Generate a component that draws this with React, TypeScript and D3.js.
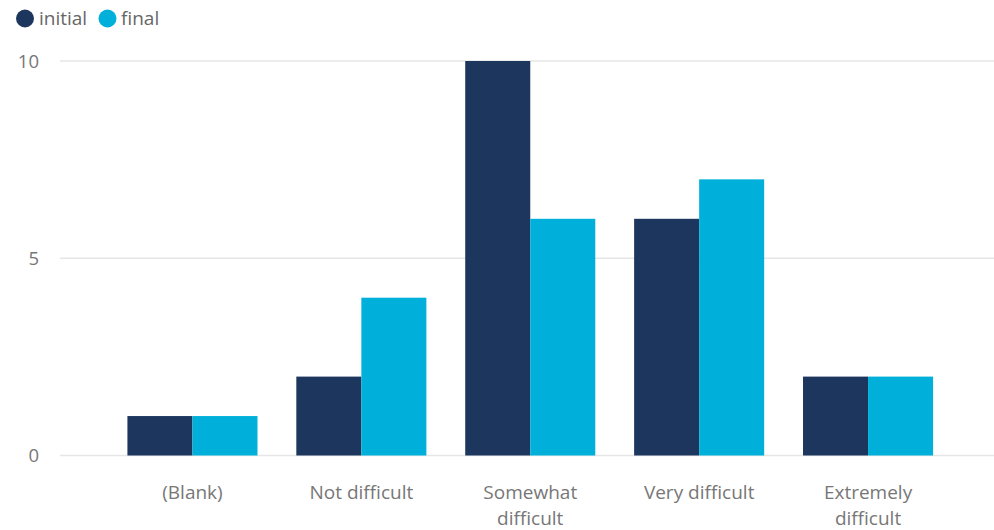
import React from "react";
import * as d3 from "d3";

// Survey responses: how difficult the task was, before and after
const categories: string[][] = [
  ["(Blank)"],
  ["Not difficult"],
  ["Somewhat", "difficult"],
  ["Very difficult"],
  ["Extremely", "difficult"],
];
const categoryKeys = ["(Blank)", "Not difficult", "Somewhat difficult", "Very difficult", "Extremely difficult"];
const initialValues = [1, 2, 10, 6, 2];
const finalValues = [1, 4, 6, 7, 2];
const seriesNames = ["initial", "final"];
const seriesColors = ["#1C365D", "#00B0DA"];
const yTicks = [0, 5, 10];

const W = 994;
const H = 530;
const FONT = "'Open Sans', 'Noto Sans', sans-serif";

export default function App() {
  const x = d3
    .scaleBand<string>()
    .domain(categoryKeys)
    .range([108, 952.5])
    .paddingInner(0.23)
    .paddingOuter(0.115);
  const sub = d3.scaleBand<string>().domain(seriesNames).range([0, x.bandwidth()]);
  const y = d3.scaleLinear().domain([0, 10]).range([455.5, 61]);
  const series = [initialValues, finalValues];

  return (
    <svg
      width={W}
      height={H}
      style={{ position: "absolute", left: 0, top: 0, background: "#fff" }}
      fontFamily={FONT}
    >
      {/* legend */}
      <g>
        <circle cx={25} cy={18.5} r={9} fill={seriesColors[0]} />
        <text x={39} y={25} fontSize={19} fill="#666">{seriesNames[0]}</text>
        <circle cx={107.5} cy={18.5} r={9} fill={seriesColors[1]} />
        <text x={121} y={25} fontSize={19} fill="#666">{seriesNames[1]}</text>
      </g>

      {/* gridlines and value axis */}
      {yTicks.map((t) => (
        <g key={t}>
          <line x1={60} x2={W} y1={y(t)} y2={y(t)} stroke="#e6e6e6" strokeWidth={1.3} />
          <text x={39} y={y(t) + 6.5} fontSize={18.5} fill="#777" textAnchor="end">
            {t}
          </text>
        </g>
      ))}

      {/* bars */}
      {categoryKeys.map((c, i) => (
        <g key={c} transform={`translate(${x(c)},0)`}>
          {series.map((vals, s) => (
            <rect
              key={s}
              x={sub(seriesNames[s])}
              width={sub.bandwidth()}
              y={y(vals[i])}
              height={y(0) - y(vals[i])}
              fill={seriesColors[s]}
            />
          ))}
        </g>
      ))}

      {/* category labels */}
      {categoryKeys.map((c, i) => (
        <text
          key={c}
          x={(x(c) ?? 0) + x.bandwidth() / 2}
          y={499}
          fontSize={19}
          fill="#777"
          textAnchor="middle"
        >
          {categories[i].map((line, j) => (
            <tspan key={j} x={(x(c) ?? 0) + x.bandwidth() / 2} dy={j === 0 ? 0 : 26}>
              {line}
            </tspan>
          ))}
        </text>
      ))}
    </svg>
  );
}
